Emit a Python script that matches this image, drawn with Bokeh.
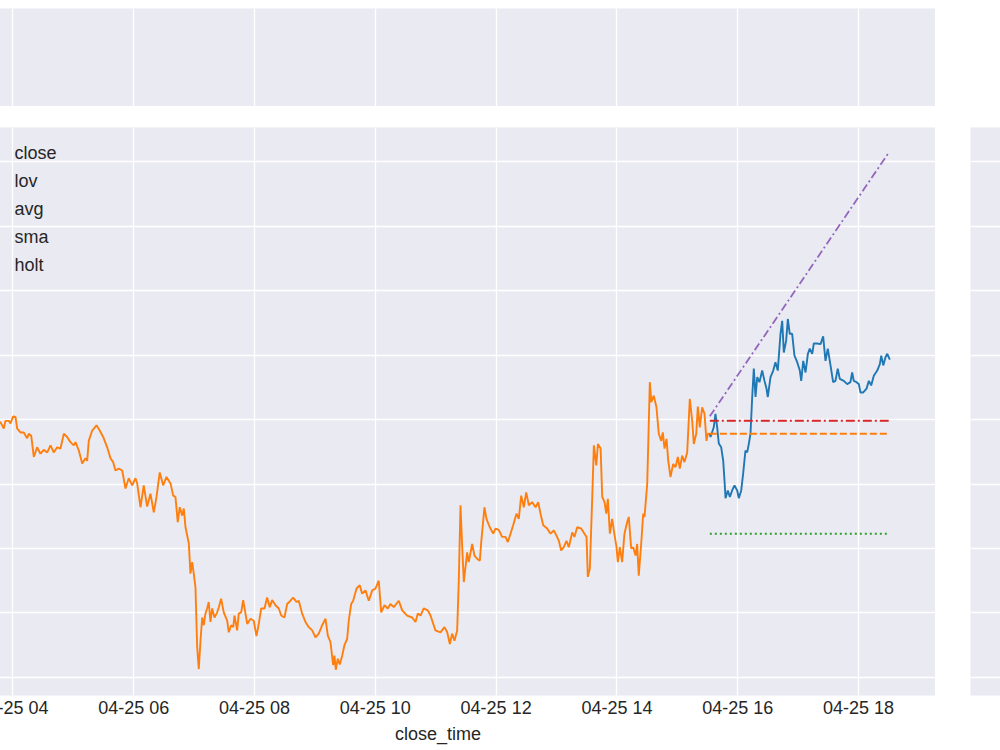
import pandas as pd
from bokeh.plotting import figure
from bokeh.models import Range1d, FixedTicker, DatetimeTickFormatter, Label
from bokeh.layouts import column, row
from bokeh.embed import file_html
from bokeh.resources import INLINE

# ---------------- data ----------------
BASE = pd.Timestamp("2021-04-25 04:00")

# minutes after 04-25 04:00, close price (training part, orange)
train_minutes = [
    -22.4, -12.4, -10.7, -9.1, -7.5, -4.2, -2.5, 0.2, 2.5, 4.2, 7.5, 10.7, 14.1, 15.7, 18.1,
    20.7, 24.0, 27.3, 30.6, 34.0, 37.3, 40.5, 43.9, 47.2, 50.5, 53.8, 57.1, 60.4, 62.1, 65.4,
    68.8, 72.0, 73.7, 75.3, 78.7, 83.0, 86.2, 89.6, 93.6, 96.9, 99.5, 101.8, 105.1, 108.5,
    111.8, 115.0, 118.4, 121.7, 123.4, 126.7, 129.9, 133.3, 136.6, 139.9, 142.6, 145.8,
    149.2, 152.5, 156.5, 159.2, 161.4, 163.7, 165.7, 168.1, 169.7, 171.4, 174.7, 176.3,
    178.0, 179.6, 181.3, 183.0, 184.6, 186.3, 188.0, 189.6, 191.2, 192.9, 194.5, 196.2,
    197.9, 200.2, 202.9, 204.5, 206.8, 209.4, 212.8, 214.4, 216.8, 218.8, 220.1, 222.7,
    224.3, 226.7, 228.7, 231.0, 232.7, 236.0, 239.2, 241.9, 244.2, 246.6, 249.9, 252.5,
    255.1, 257.5, 260.8, 264.1, 266.5, 269.7, 272.4, 275.7, 278.4, 281.7, 283.9, 287.3,
    290.6, 293.9, 297.3, 300.5, 303.8, 307.2, 310.5, 312.8, 315.4, 318.1, 319.4, 320.7,
    322.7, 324.7, 327.1, 329.3, 332.0, 333.6, 336.0, 338.0, 341.3, 344.5, 346.9, 350.2,
    353.5, 356.9, 360.2, 363.4, 365.8, 369.1, 372.4, 375.0, 378.3, 383.3, 386.7, 391.6,
    396.6, 399.9, 402.2, 404.9, 408.1, 412.1, 414.8, 419.7, 424.7, 428.7, 431.4, 434.0,
    436.3, 438.6, 441.3, 442.9, 444.6, 446.3, 447.9, 451.2, 452.8, 456.2, 458.5, 461.2,
    463.8, 465.2, 468.4, 470.4, 473.7, 477.1, 479.4, 482.6, 486.0, 489.3, 491.6, 494.3,
    496.9, 500.2, 502.5, 504.9, 507.5, 509.9, 512.5, 515.8, 519.1, 521.8, 524.1, 526.8,
    530.7, 534.0, 537.3, 540.0, 542.3, 544.6, 547.2, 549.9, 552.2, 555.6, 557.8, 560.5,
    564.5, 567.8, 569.8, 571.1, 573.1, 575.5, 577.1, 579.5, 581.1, 583.8, 585.4, 587.7,
    589.4, 591.0, 593.0, 595.3, 596.9, 599.6, 600.9, 602.9, 605.2, 607.5, 610.2, 611.8,
    614.2, 616.2, 618.5, 620.1, 621.7, 624.1, 626.1, 627.4, 630.1, 632.7, 634.1, 636.6,
    639.3, 641.6, 644.0, 645.6, 647.3, 649.3, 651.0, 653.2, 655.9, 658.2, 660.5, 662.5,
    664.8, 667.1, 669.8, 672.4, 674.8, 676.4, 678.8, 680.4, 682.3, 684.7, 687.0, 689.0,
    690.3, 692.3,
]
train_close = [
    2949.1, 2949.6, 2949.1, 2948.6, 2949.8, 2949.8, 2949.4, 2950.5, 2950.4, 2948.6, 2948.0, 2948.0, 2947.1, 2947.8, 2947.5,
    2944.2, 2945.7, 2944.7, 2945.3, 2944.9, 2946.0, 2944.9, 2945.7, 2945.5, 2947.8, 2947.3, 2946.5, 2946.0, 2946.5, 2945.2,
    2943.2, 2944.0, 2943.6, 2946.7, 2948.3, 2949.1, 2948.3, 2947.3, 2945.7, 2944.0, 2943.4, 2942.1, 2942.4, 2942.1,
    2939.3, 2940.9, 2939.8, 2940.9, 2940.1, 2936.4, 2939.8, 2936.5, 2938.5, 2935.6, 2938.0, 2941.8,
    2939.8, 2941.1, 2940.1, 2938.2, 2938.0, 2934.1, 2936.4, 2935.1, 2936.2, 2933.3, 2930.8, 2926.1,
    2927.9, 2926.1, 2924.0, 2914.7, 2911.3, 2915.7, 2919.3, 2918.1, 2919.9, 2920.7, 2921.7, 2918.6,
    2920.7, 2919.3, 2920.1, 2920.9, 2922.2, 2920.1, 2918.8, 2917.0, 2918.1, 2917.8, 2919.6, 2917.3,
    2919.9, 2920.1, 2922.0, 2919.9, 2918.3, 2919.1, 2918.8, 2916.4, 2918.3, 2920.7, 2920.7, 2922.4,
    2920.9, 2922.0, 2921.2, 2920.7, 2919.6, 2919.3, 2921.4, 2921.9, 2922.4, 2921.7, 2921.9, 2919.9,
    2918.6, 2917.8, 2917.3, 2916.2, 2916.8, 2918.1, 2919.1, 2916.5, 2915.5, 2911.9, 2913.4, 2911.2,
    2912.9, 2912.0, 2913.4, 2915.0, 2916.0, 2918.8, 2921.4, 2921.9, 2923.8, 2924.3, 2923.0, 2923.5,
    2921.9, 2923.5, 2923.8, 2925.0, 2920.1, 2921.2, 2920.7, 2921.4, 2920.9, 2921.9, 2920.4, 2919.6,
    2919.3, 2918.6, 2919.9, 2919.6, 2920.7, 2920.4, 2919.6, 2917.3, 2917.0, 2917.8, 2917.0, 2915.2,
    2916.8, 2915.7, 2917.3, 2925.0, 2936.7, 2930.2, 2924.8, 2929.4, 2927.9, 2930.7, 2928.9, 2928.4,
    2928.1, 2931.0, 2936.4, 2934.6, 2933.3, 2932.3, 2933.1, 2932.9, 2931.8, 2931.8, 2931.0, 2932.3,
    2933.6, 2935.4, 2934.6, 2938.2, 2936.4, 2938.7, 2936.7, 2937.2, 2936.4, 2937.2, 2935.4, 2933.6,
    2933.1, 2932.3, 2932.8, 2932.0, 2931.2, 2929.7, 2930.2, 2931.2, 2930.2, 2932.5, 2931.8, 2933.3,
    2933.1, 2932.3, 2931.8, 2925.6, 2926.9, 2938.0, 2946.0, 2942.9, 2946.2, 2945.5, 2938.0, 2937.2,
    2935.4, 2937.7, 2932.3, 2934.6, 2932.8, 2930.2, 2927.9, 2930.2, 2927.9, 2932.3, 2934.1, 2934.9,
    2930.0, 2930.2, 2928.9, 2930.7, 2925.8, 2930.7, 2935.4, 2934.9, 2940.0, 2955.8, 2952.7, 2953.7,
    2951.9, 2947.8, 2946.7, 2948.0, 2945.5, 2947.0, 2943.6, 2941.1, 2943.1, 2942.6, 2944.2, 2942.4,
    2944.4, 2943.4, 2944.9, 2953.2, 2949.8, 2946.2, 2947.8, 2952.0, 2948.8, 2951.9, 2950.9, 2946.7,
    2947.8, 2947.8,
]

# test part (blue)
test_minutes = [
    692.3, 693.0, 696.2, 697.9, 699.6, 701.2, 703.6, 705.6, 706.9, 707.9, 710.2, 712.2, 714.5,
    716.8, 719.5, 721.1, 723.5, 725.4, 727.7, 729.4, 731.0, 732.7, 734.4, 736.0, 737.7, 739.4,
    741.6, 744.3, 746.6, 748.6, 749.9, 752.6, 755.3, 757.5, 759.8, 762.5, 764.2, 765.8, 768.1,
    769.8, 771.7, 774.1, 776.4, 779.1, 781.7, 783.1, 785.1, 787.4, 789.7, 791.6, 794.0, 795.6,
    799.0, 802.3, 804.9, 807.2, 809.5, 812.2, 814.8, 817.1, 819.4, 821.4, 825.4, 828.8, 832.0,
    833.7, 835.3, 838.0, 840.3, 842.0, 844.7, 848.0, 850.3, 852.6, 855.2, 858.6, 861.2, 862.6,
    864.6, 866.9, 868.6, 871.1,
]
test_close = [
    2947.8, 2947.3, 2948.8, 2950.9, 2948.8, 2946.3, 2945.7, 2943.6, 2940.5, 2937.8, 2939.0, 2938.0, 2939.0,
    2939.8, 2939.0, 2937.8, 2939.0, 2941.6, 2945.2, 2944.9, 2946.2, 2947.8, 2953.5, 2957.9, 2953.5, 2956.6,
    2955.8, 2957.6, 2956.0, 2954.8, 2953.5, 2956.6, 2957.6, 2958.9, 2957.6, 2963.3, 2965.3, 2960.4, 2962.2,
    2965.6, 2963.3, 2963.3, 2959.9, 2958.9, 2957.6, 2956.0, 2959.1, 2957.3, 2960.2, 2961.0, 2960.2, 2961.8,
    2961.8, 2961.7, 2962.9, 2959.1, 2961.0, 2958.4, 2955.8, 2956.0, 2957.9, 2956.3, 2956.0, 2955.5, 2955.8,
    2957.3, 2956.0, 2955.8, 2955.5, 2954.2, 2954.2, 2954.8, 2956.0, 2955.3, 2956.8, 2957.6, 2958.6, 2959.9,
    2958.4, 2959.7, 2960.2, 2959.3,
]

forecast_minutes = [692.3, 870.0]       # forecast horizon (start, end)
lov_values = [2949.8, 2949.8]
avg_values = [2947.8, 2947.8]
sma_values = [2932.3, 2932.3]
holt_values = [2950.5, 2991.4]

legend_labels = ["close", "lov", "avg", "sma", "holt"]
tick_hours = [2, 4, 6, 8, 10, 12, 14, 16, 18]
y_ticks = [2910, 2920, 2930, 2940, 2950, 2960, 2970, 2980, 2990]
x_label = "close_time"

# ---------------- helpers ----------------
def to_dt(mins):
    return [BASE + pd.Timedelta(minutes=m) for m in mins]

def ms(ts):
    return ts.value / 1e6

BG = "#eaeaf2"
TXT = "#262626"
FONT = "Liberation Sans"
FS = "18px"

EXT = 60                 # part of the panels hidden off the left edge of the window
FRAME_W = 935 + EXT
FRAME_H = 568

x_range = Range1d(ms(BASE + pd.Timedelta(minutes=-72.0)), ms(BASE + pd.Timedelta(minutes=916.5)))
y_range = Range1d(2907.2, 2995.3)
xs, xe = x_range.start, x_range.end
ys, ye = y_range.start, y_range.end

def px_to_x(px):          # window pixel -> x data
    return xs + ((px + EXT) / FRAME_W) * (xe - xs)

def off_to_y(off):        # pixels below frame top -> y data
    return ye - (off / FRAME_H) * (ye - ys)

def style(p):
    p.background_fill_color = BG
    p.border_fill_color = "white"
    p.outline_line_color = None
    p.grid.grid_line_color = "white"
    p.grid.grid_line_width = 1.3

tick_ms = [ms(BASE + pd.Timedelta(hours=h - 4)) for h in tick_hours]

# ---------------- top panel ----------------
top = figure(width=FRAME_W, height=106, x_range=x_range, y_range=Range1d(0, 1),
             x_axis_location=None, y_axis_location=None, toolbar_location=None,
             output_backend="svg", min_border_top=8, min_border_bottom=0,
             min_border_left=0, min_border_right=0)
style(top)
top.xgrid.ticker = FixedTicker(ticks=tick_ms)
top.ygrid.visible = False

# ---------------- main panel ----------------
main = figure(width=FRAME_W, height=644, x_range=x_range, y_range=y_range,
              x_axis_type="datetime", y_axis_location=None, toolbar_location=None,
              output_backend="svg", min_border_top=21, min_border_bottom=55,
              min_border_left=0, min_border_right=0)
style(main)

main.xaxis.ticker = FixedTicker(ticks=tick_ms)
main.ygrid.ticker = FixedTicker(ticks=y_ticks)
fmt = "%m-%d %H"
main.xaxis.formatter = DatetimeTickFormatter(hours=fmt, hourmin=fmt, minutes=fmt, minsec=fmt,
                                             days=fmt, months=fmt, years=fmt)
ax = main.xaxis[0]
ax.axis_line_color = None
ax.major_tick_line_color = None
ax.minor_tick_line_color = None
ax.major_tick_out = 0
ax.major_tick_in = 0
ax.minor_tick_out = 0
ax.minor_tick_in = 0
ax.major_label_text_font = FONT
ax.major_label_text_font_size = FS
ax.major_label_text_color = TXT
ax.major_label_standoff = 2
ax.axis_label = x_label
ax.axis_label_text_font = FONT
ax.axis_label_text_font_size = FS
ax.axis_label_text_font_style = "normal"
ax.axis_label_text_color = TXT
ax.axis_label_standoff = 3

main.line(to_dt(train_minutes), train_close, line_color="#ff7f0e", line_width=1.9)
main.line(to_dt(test_minutes), test_close, line_color="#1f77b4", line_width=1.9)

fdt = to_dt(forecast_minutes)
main.line(fdt, lov_values, line_color="#d62728", line_width=2, line_dash="9 3 2 3")
main.line(fdt, avg_values, line_color="#ff7f0e", line_width=2, line_dash="7 3")
main.line(fdt, sma_values, line_color="#2ca02c", line_width=2, line_dash="2 3")
main.line(fdt, holt_values, line_color="#9467bd", line_width=1.8, line_dash="8 3 2 3")

# text-only legend (its handles sit left of the visible area)
for i, lab in enumerate(legend_labels):
    main.add_layout(Label(x=px_to_x(14), y=off_to_y(25 + 28 * i), text=lab, text_font=FONT,
                          text_font_size=FS, text_color=TXT, text_baseline="middle",
                          text_align="left"))

# ---------------- right panel ----------------
right = figure(width=30, height=644, x_range=Range1d(0, 1), y_range=y_range,
               x_axis_location=None, y_axis_location=None, toolbar_location=None,
               output_backend="svg", min_border_top=21, min_border_bottom=55,
               min_border_left=0, min_border_right=0)
style(right)
right.ygrid.ticker = FixedTicker(ticks=y_ticks)
right.xgrid.visible = False

layout = column(top, row(main, right, spacing=35), spacing=0,
                styles={"margin-left": f"-{EXT}px"})

open("out.html", "w").write(file_html(layout, INLINE))
